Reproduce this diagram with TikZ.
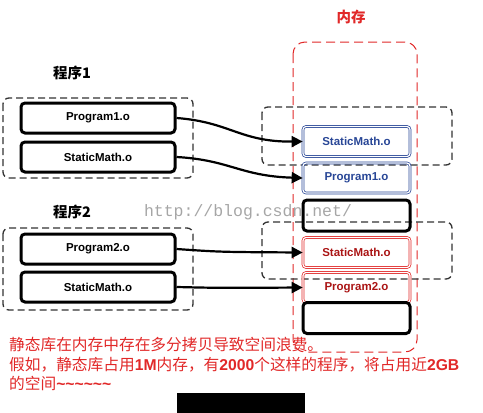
\documentclass[tikz,border=0pt]{standalone}
\usepackage{fontspec}
\setmainfont{Liberation Sans}
\setmonofont{Liberation Mono}
\newfontfamily\cjk{Noto Sans CJK SC}
\newfontfamily\latinbold{Liberation Sans}[UprightFont=*, BoldFont=* Bold]
\usetikzlibrary{arrows.meta}
\definecolor{memblue}{RGB}{40,70,150}
\definecolor{memred}{RGB}{225,40,40}
\definecolor{textred}{RGB}{170,20,20}
\newcommand{\numb}[1]{{\latinbold\bfseries #1}}
\begin{document}
\begin{tikzpicture}[x=1pt,y=-1pt,
	objbox/.style={draw, line width=3pt, rounded corners=4pt, minimum width=154pt, minimum height=30pt,
		font=\bfseries\fontsize{11.5}{13}\selectfont},
	memobj/.style={rounded corners=3pt, minimum width=107pt, minimum height=30pt, double=white,
		double distance=1.2pt, line width=0.7pt, font=\bfseries\fontsize{11.5}{13}\selectfont},
	emptybox/.style={draw, line width=3pt, rounded corners=4pt, minimum width=107pt, minimum height=31pt},
	group/.style={draw=black!80, dashed, dash pattern=on 7pt off 4pt, line width=1.3pt, rounded corners=6pt},
	title/.style={font=\cjk\bfseries\fontsize{14.5}{16}\selectfont},
	link/.style={line width=2.2pt, -{Triangle[length=11pt,width=11pt]}}]
	\useasboundingbox (0,0) rectangle (483,413);

	% watermark
	\node[text=black!35, font=\ttfamily\fontsize{16.5}{18}\selectfont] (mark) at (248,212) {http://blog.csdn.net/};

	% memory
	\draw[memred, line width=1pt, dash pattern=on 9pt off 5pt, rounded corners=12pt] (293,42) rectangle (417,352);
	\node[title, text=memred] (mem) at (351,17) {内存};
	\draw[group] (262,107) rectangle (452,165);
	\draw[group] (262,222) rectangle (452,279);
	\node[memobj, draw=memblue, text=memblue] (ms1) at (356.5,141.5) {StaticMath.o};
	\node[memobj, draw=memblue, text=memblue] (mp1) at (356.5,178) {Program1.o};
	\node[emptybox] (mb1) at (356.5,215.5) {};
	\node[memobj, draw=memred, text=textred] (ms2) at (356.5,252.5) {StaticMath.o};
	\node[memobj, draw=memred, text=textred] (mp2) at (356.5,287.5) {Program2.o};
	\node[emptybox] (mb2) at (356.5,318) {};

	% programs
	\node[title] (prog1) at (72,73) {程序1};
	\draw[group] (3,98) rectangle (193,178);
	\node[objbox] (p1) at (98,118) {Program1.o};
	\node[objbox] (s1) at (98,157) {StaticMath.o};

	\node[title] (prog2) at (72,212) {程序2};
	\draw[group] (3,228) rectangle (193,310);
	\node[objbox] (p2) at (98,249) {Program2.o};
	\node[objbox] (s2) at (98,287) {StaticMath.o};

	\draw[link] (p1.east) .. controls (230,122) and (240,142) .. (ms1.west);
	\draw[link] (s1.east) .. controls (230,160) and (240,176) .. (mp1.west);
	\draw[link] (p2.east) .. controls (220,252) .. (ms2.west);
	\draw[link] (s2.east) .. controls (220,288) .. (mp2.west);

	% note
	\node[anchor=north west, align=left, text=memred, inner sep=0pt,
		font=\cjk\fontsize{15.7}{19.5}\selectfont] (note) at (9,337)
		{静态库在内存中存在多分拷贝导致空间浪费。\\
		假如，静态库占用\numb{1M}内存，有\numb{2000}个这样的程序，将占用近\numb{2GB}\\
		的空间\numb{\textasciitilde\textasciitilde\textasciitilde\textasciitilde\textasciitilde\textasciitilde}};
	\fill (177,393) rectangle (305,413);
\end{tikzpicture}
\end{document}
